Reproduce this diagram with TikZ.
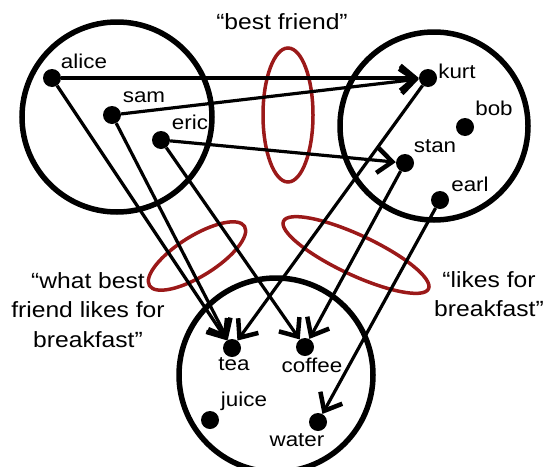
\documentclass[tikz,border=0pt]{standalone}
\usepackage{fontspec}
\setmainfont{Liberation Sans}[FakeStretch=1.12]
\usetikzlibrary{arrows.meta}
\definecolor{ovalred}{RGB}{155,25,25}
\begin{document}
\begin{tikzpicture}[x=1pt,y=-1pt,
  dot/.style={circle,fill=black,inner sep=0pt,minimum size=18pt},
  setc/.style={circle,draw=black,line width=5.5pt,inner sep=0pt},
  rel/.style={line width=3.2pt,-{Straight Barb[length=15pt,width=25pt,line width=4.5pt]}},
  oval/.style={draw=ovalred,line width=3.5pt},
  lab/.style={font=\fontsize{20}{24}\selectfont,inner sep=0pt},
  ann/.style={font=\fontsize{22}{29.5}\selectfont,align=center,inner sep=0pt}]
\useasboundingbox (0,0) rectangle (543,466);
% sets
\node[setc,minimum size=190pt] (P) at (117,117) {};
\node[setc,minimum size=188pt] (Q) at (434,126) {};
\node[setc,minimum size=194pt] (D) at (276,375) {};
% relation ovals
\draw[oval] (288,115) ellipse [x radius=25pt, y radius=67pt];
\draw[oval,rotate around={32:(197,256)}] (197,256) ellipse [x radius=56pt, y radius=20pt];
\draw[oval,rotate around={-25:(356,255)}] (356,255) ellipse [x radius=80pt, y radius=20pt];
% elements
\node[dot] (alice) at (52,78) {};
\node[dot] (sam) at (112,115) {};
\node[dot] (eric) at (161,140) {};
\node[dot] (kurt) at (428,78) {};
\node[dot] (bob) at (465,127) {};
\node[dot] (stan) at (405,163) {};
\node[dot] (earl) at (440,200) {};
\node[dot] (tea) at (232,348) {};
\node[dot] (coffee) at (305,347) {};
\node[dot] (juice) at (210,420) {};
\node[dot] (water) at (318,422) {};
% labels
\node[lab] (lalice) at (84,61) {alice};
\node[lab] (lsam) at (144,97) {sam};
\node[lab] (leric) at (190,122) {eric};
\node[lab] (lkurt) at (457,71) {kurt};
\node[lab] (lbob) at (494,108) {bob};
\node[lab] (lstan) at (435,146) {stan};
\node[lab] (learl) at (470,184) {earl};
\node[lab] (ltea) at (234,364) {tea};
\node[lab] (lcoffee) at (312,365) {coffee};
\node[lab] (ljuice) at (244,401) {juice};
\node[lab] (lwater) at (297,440) {water};
% annotations
\node[ann] (bf) at (282,22) {“best friend”};
\node[ann] (wbf) at (88,310) {“what best\\friend likes for\\breakfast”};
\node[ann] (lfb) at (489,294) {“likes for\\breakfast”};
% relations
\draw[rel] (alice) -- (kurt);
\draw[rel] (sam) -- (kurt);
\draw[rel] (eric) -- (stan);
\draw[rel] (alice) -- (tea);
\draw[rel] (sam) -- (tea);
\draw[rel] (eric) -- (coffee);
\draw[rel] (kurt) -- (tea);
\draw[rel] (stan) -- (coffee);
\draw[rel] (earl) -- (water);
\end{tikzpicture}
\end{document}
